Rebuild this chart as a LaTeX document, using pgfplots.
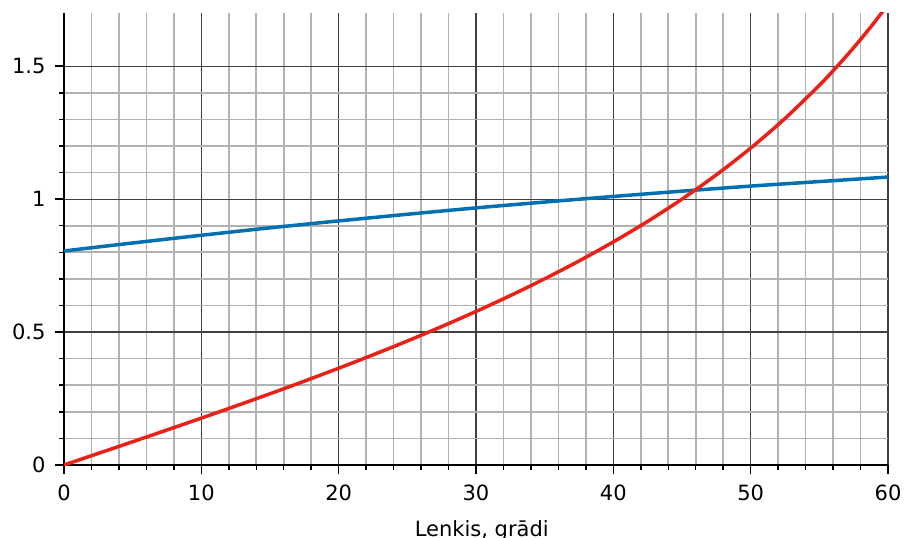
\documentclass[border=0pt]{standalone}
\usepackage{fontspec}
\setmainfont{DejaVu Sans}
\usepackage{pgfplots}
\pgfplotsset{compat=1.18}
\definecolor{cred}{RGB}{232,34,24}
\definecolor{cblue}{RGB}{0,112,176}
\begin{document}
\begin{tikzpicture}
\begin{axis}[
  scale only axis,
  width=824bp, height=452bp,
  xmin=0, xmax=60, ymin=0, ymax=1.7,
  xtick={0,10,...,60}, minor x tick num=4,
  ytick={0,0.5,1,1.5}, minor y tick num=4,
  grid=both,
  major grid style={draw=black!75, line width=1.2bp},
  minor grid style={draw=black!30, line width=1.6bp},
  axis lines=left,
  axis line style={-, black, line width=2bp},
  tick align=outside,
  major tick length=9bp, minor tick length=4.5bp,
  tick style={black, line width=1.5bp},
  /pgf/number format/assume math mode=true,
  ticklabel style={font=\fontsize{21bp}{25bp}\selectfont},
  yticklabel style={xshift=-6bp},
  xticklabel style={yshift=-7bp},
  xlabel={Lenkis, grādi},
  xlabel style={at={(axis description cs:0.507,0)}, anchor=north, inner sep=0pt, yshift=-55bp, font=\fontsize{21bp}{25bp}\selectfont},
  clip=true,
]
\path (rel axis cs:0,0) coordinate (sw);
\addplot[cblue, line width=3.5bp, smooth] coordinates {
 (0,0.805) (5,0.835) (10,0.864) (15,0.892) (20,0.918) (25,0.943) (30,0.967)
 (35,0.989) (40,1.010) (45,1.030) (50,1.049) (55,1.066) (60,1.083)};
\addplot[cred, line width=3.5bp, smooth] coordinates {
 (0,0) (2.5,0.0437) (5,0.0875) (7.5,0.1317) (10,0.1763) (12.5,0.2217) (15,0.2679)
 (17.5,0.3153) (20,0.3640) (22.5,0.4142) (25,0.4663) (27.5,0.5206) (30,0.5774)
 (32.5,0.6371) (35,0.7002) (37.5,0.7673) (40,0.8391) (42.5,0.9163) (45,1.0000)
 (47.5,1.0913) (50,1.1918) (52.5,1.3032) (55,1.4281) (56,1.4826) (57,1.5399)
 (58,1.6003) (59,1.6643) (60,1.7321)};
\end{axis}
\pgfresetboundingbox
\path[use as bounding box] (sw) ++(-64bp,-73bp) rectangle ++(904bp,538bp);
\end{tikzpicture}
\end{document}
